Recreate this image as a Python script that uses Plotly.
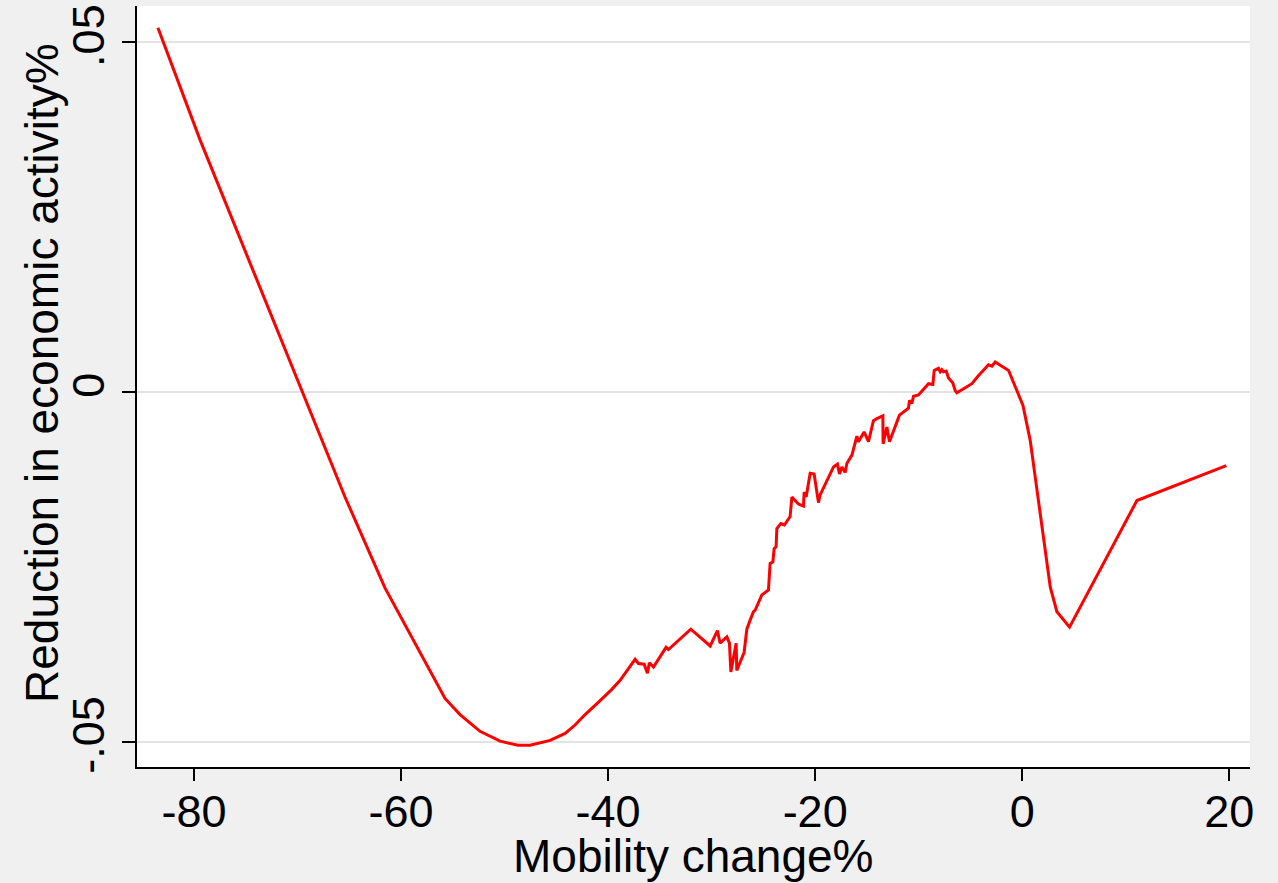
import plotly.graph_objects as go

mobility = [-83.48, -82.80, -79.42, -65.41, -61.55, -55.75, -54.30, -52.37, -50.43, -48.70,
            -47.54, -45.60, -44.15, -43.19, -42.22, -40.77, -39.64, -38.84, -37.39, -37.07,
            -36.52, -36.20, -36.01, -35.62, -34.40, -34.17, -32.01, -30.14, -29.44, -29.18,
            -28.53, -28.28, -28.14, -27.63, -27.57, -26.86, -26.60, -26.28, -25.96, -25.80,
            -25.15, -24.51, -24.35, -24.09, -23.96, -23.77, -23.70, -23.31, -22.97, -22.42,
            -22.25, -21.61, -21.13, -21.06, -20.87, -20.48, -20.10, -19.68, -19.52, -18.23,
            -17.85, -17.65, -17.42, -17.10, -16.94, -16.45, -15.97, -15.82, -15.27, -14.85,
            -14.37, -14.04, -13.46, -13.44, -13.07, -12.82, -11.86, -10.99, -10.89, -10.66,
            -10.50, -10.02, -9.05, -8.63, -8.50, -8.09, -7.92, -7.76, -7.60, -7.34,
            -7.12, -6.70, -6.47, -6.31, -4.86, -4.32, -3.26, -2.93, -2.61, -1.32,
            -0.68, 0.07, 0.77, 1.81, 2.71, 3.35, 4.57, 11.08, 19.71]

reduction = [0.0521, 0.0494, 0.0361, -0.0150, -0.0280, -0.0438, -0.0461, -0.0485, -0.0499, -0.0505,
             -0.0505, -0.0498, -0.0488, -0.0476, -0.0461, -0.0441, -0.0425, -0.0412, -0.0382, -0.0388,
             -0.0389, -0.0402, -0.0387, -0.0393, -0.0365, -0.0368, -0.0339, -0.0363, -0.0341, -0.0359,
             -0.0350, -0.0359, -0.0400, -0.0359, -0.0398, -0.0372, -0.0339, -0.0326, -0.0314, -0.0312,
             -0.0290, -0.0283, -0.0245, -0.0243, -0.0224, -0.0221, -0.0195, -0.0188, -0.0190, -0.0178,
             -0.0150, -0.0160, -0.0163, -0.0143, -0.0150, -0.0116, -0.0117, -0.0158, -0.0147, -0.0107,
             -0.0103, -0.0117, -0.0107, -0.0115, -0.0102, -0.0090, -0.0063, -0.0071, -0.0057, -0.0071,
             -0.0041, -0.0038, -0.0034, -0.0074, -0.0050, -0.0071, -0.0033, -0.0023, -0.0012, -0.0016,
             -0.0006, -0.0004, 0.0012, 0.0011, 0.0031, 0.0034, 0.0029, 0.0032, 0.0029, 0.0030,
             0.0020, 0.0013, 0.0002, -0.0001, 0.0012, 0.0022, 0.0039, 0.0037, 0.0043, 0.0031,
             0.0008, -0.0019, -0.0069, -0.0183, -0.0279, -0.0314, -0.0336, -0.0155, -0.0105]

x_ticks = [-80, -60, -40, -20, 0, 20]
x_tick_labels = ["-80", "-60", "-40", "-20", "0", "20"]
y_ticks = [-0.05, 0, 0.05]
y_tick_labels = ["-.05", "0", ".05"]
x_title = "Mobility change%"
y_title = "Reduction in economic activity%"

FONT = "Liberation Sans, Arial, Helvetica, sans-serif"

fig = go.Figure()
fig.add_trace(go.Scatter(x=mobility, y=reduction, mode="lines",
                         line=dict(color="#ff0000", width=3), showlegend=False,
                         hoverinfo="skip"))

fig.update_layout(
    width=1278, height=883,
    paper_bgcolor="#f0f0f0", plot_bgcolor="#ffffff",
    margin=dict(l=137, r=28, t=6, b=116, pad=0),
    font=dict(family=FONT, size=44, color="#000000"),
    xaxis=dict(range=[-85.5, 22.0], tickvals=x_ticks, ticktext=x_tick_labels,
               automargin=False, ticklabelstandoff=-8,
               showgrid=False, zeroline=False, showline=True, linecolor="#000000", linewidth=2,
               ticks="outside", ticklen=12, tickwidth=2, tickcolor="#000000",
               tickfont=dict(family=FONT, size=45)),
    yaxis=dict(range=[-0.0536, 0.0552], tickvals=y_ticks, ticktext=y_tick_labels,
               tickangle=-90, automargin=False,
               showgrid=True, gridcolor="#e3e3e3", gridwidth=2,
               zeroline=False, showline=True, linecolor="#000000", linewidth=2,
               ticks="outside", ticklen=13, tickwidth=2, tickcolor="#000000",
               tickfont=dict(family=FONT, size=45)),
    annotations=[
        dict(text=x_title, xref="paper", yref="paper", x=0.5, y=-0.117,
             xanchor="center", yanchor="middle", showarrow=False,
             font=dict(family=FONT, size=46, color="#000000")),
        dict(text=y_title, xref="paper", yref="paper", x=-0.0854, y=0.5177,
             xanchor="center", yanchor="middle", showarrow=False, textangle=-90,
             font=dict(family=FONT, size=46, color="#000000")),
    ],
)

fig.write_html("out.html", config={"displayModeBar": False},
               post_script="document.body.style.margin='0px';document.body.style.overflow='hidden';")
